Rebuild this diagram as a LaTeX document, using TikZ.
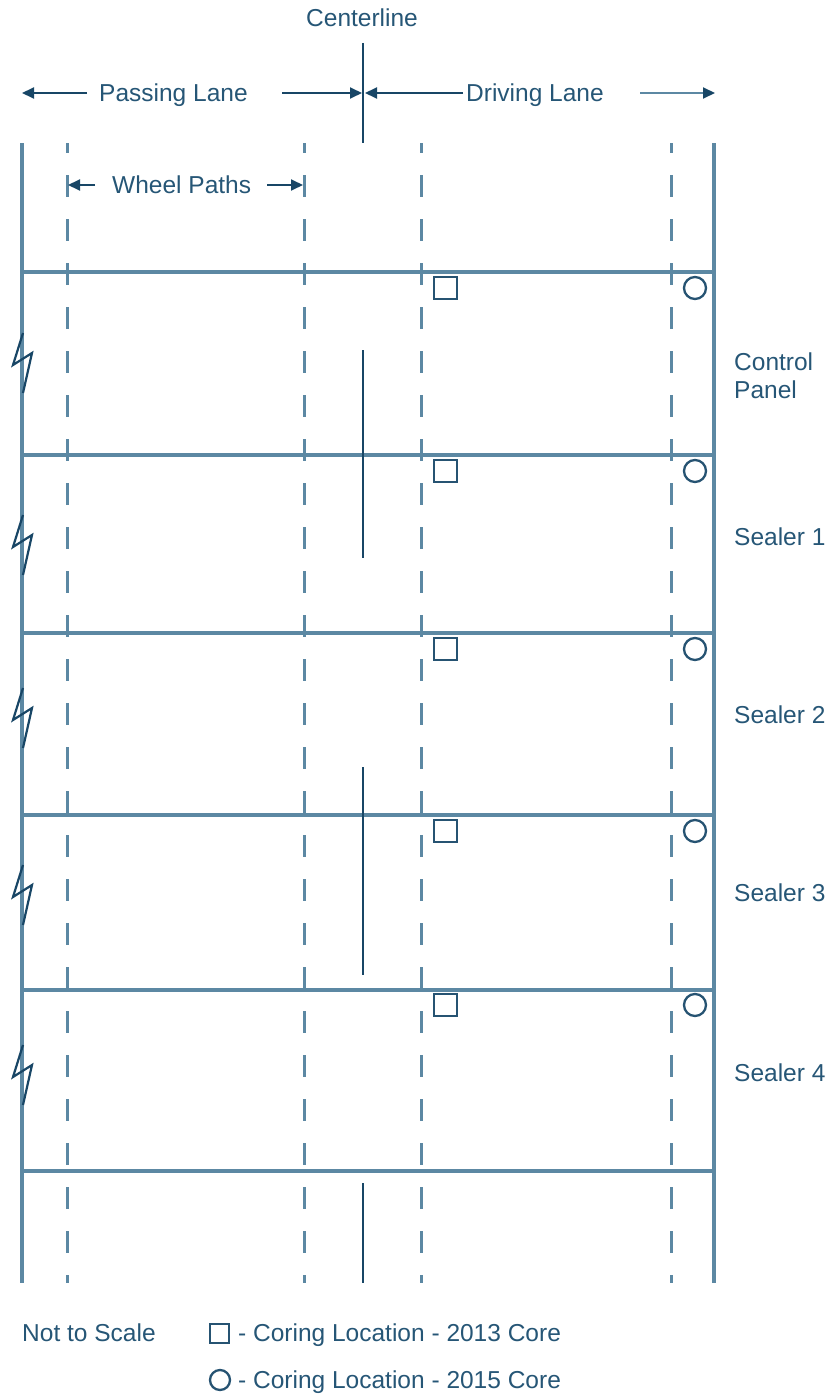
\documentclass[tikz,border=0pt]{standalone}
\usepackage{fontspec}
\setmainfont{Liberation Sans}
\usepackage{tikz}
\usetikzlibrary{arrows.meta}
\usepackage{xcolor}
\definecolor{laneline}{RGB}{92,136,163}
\definecolor{labeltext}{RGB}{38,86,118}
\definecolor{darkmark}{RGB}{24,70,102}
\tikzset{
  lbl/.style={anchor=base west, inner sep=0pt, text=labeltext, font=\fontsize{24.5}{28}\selectfont},
  lanearrow/.style={darkmark, line width=1.9pt, -{Triangle[length=12pt,width=11pt]}},
  wheelline/.style={laneline, line width=3pt, dash pattern=on 22pt off 22pt, dash phase=12pt},
  edgeline/.style={laneline, line width=3.1pt},
  coremark/.style={draw=darkmark!80!laneline, line width=2.3pt}
}

\begin{document}
\begin{tikzpicture}[x=1pt, y=-1pt]
    \useasboundingbox (0,0) rectangle (828,1394);

    % Pavement edges and wheel paths
    \draw[edgeline] (22,143) -- (22,1283);
    \draw[edgeline] (714,143) -- (714,1283);
    \foreach \x in {67,304,421,671} {
        \draw[wheelline] (\x,143) -- (\x,1283);
    }

    % Panel boundaries
    \foreach \y in {272,455,633,815,990,1171} {
        \draw[edgeline] (22,\y) -- (714,\y);
    }

    % Centerline
    \draw[darkmark, line width=2.2pt] (363,43) -- (363,143);
    \foreach \a/\b in {350/558,767/975,1183/1283} {
        \draw[darkmark, line width=2.2pt] (363,\a) -- (363,\b);
    }

    % Core locations (2013 squares, 2015 circles)
    \foreach \y in {288,471,649,831,1005} {
        \draw[coremark] (434,\y-11) rectangle (457,\y+11);
        \draw[coremark] (695,\y) circle (11pt);
    }

    % Break marks on left edge
    \foreach \y in {363,545,718,895,1075} {
        \draw[darkmark, line width=2.2pt, line join=miter]
            (23,\y-30) -- (13,\y+2) -- (32,\y-10) -- (23,\y+30);
    }

    % Top labels
    \node[lbl] (center) at (306,27) {Centerline};
    \node[lbl] (passing) at (99,102) {Passing Lane};
    \node[lbl] (driving) at (466,102) {Driving Lane};
    \node[lbl] (wheels) at (112,193) {Wheel Paths};

    \coordinate (passL) at (22,93);
    \coordinate (passR) at (362,93);
    \coordinate (driveL) at (365,93);
    \coordinate (driveR) at (715,93);
    \coordinate (wheelL) at (68,185);
    \coordinate (wheelR) at (303,185);

    \draw[lanearrow] (passing.west |- passL) ++(-12,0) -- (passL);
    \draw[lanearrow] (282,93) -- (passR);
    \draw[lanearrow] (driving.west |- driveL) ++(-3,0) -- (driveL);
    \draw[lanearrow, laneline, -{Triangle[length=12pt,width=11pt,color=darkmark]}] (640,93) -- (driveR);
    \draw[lanearrow] (wheels.west |- wheelL) ++(-17,0) -- (wheelL);
    \draw[lanearrow] (267,185) -- (wheelR);

    % Panel names
    \node[lbl] (ctrlA) at (734,370) {Control};
    \node[lbl] (ctrlB) at (734,398) {Panel};
    \node[lbl] (seal1) at (734,545) {Sealer 1};
    \node[lbl] (seal2) at (734,723) {Sealer 2};
    \node[lbl] (seal3) at (734,901) {Sealer 3};
    \node[lbl] (seal4) at (734,1081) {Sealer 4};

    % Legend
    \node[lbl] (scale) at (22,1341) {Not to Scale};
    \draw[coremark] (210,1324) rectangle (229,1343);
    \node[lbl] (key13) at (238,1341) {- Coring Location - 2013 Core};
    \draw[coremark] (220,1380) circle (10pt);
    \node[lbl] (key15) at (238,1388) {- Coring Location - 2015 Core};
\end{tikzpicture}
\end{document}
